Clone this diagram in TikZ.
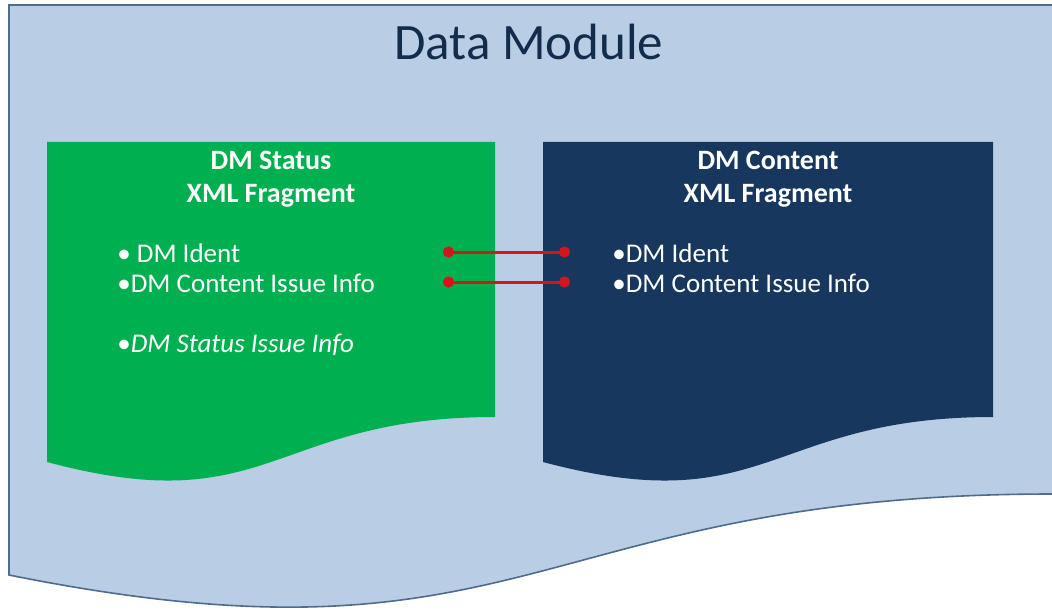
\documentclass[tikz,border=0pt]{standalone}
\usepackage{fontspec}
\setmainfont{Carlito}
\usetikzlibrary{arrows.meta}
\definecolor{pageblue}{HTML}{B9CDE5}
\definecolor{pageline}{HTML}{4F6B8F}
\definecolor{statusgreen}{HTML}{00B050}
\definecolor{contentblue}{HTML}{17375E}
\definecolor{linkred}{HTML}{D0181C}
\tikzset{
  title/.style={text=contentblue!80!black,font=\fontsize{25.5}{30}\selectfont},
  fraghead/.style={text=white,align=center,font=\bfseries\fontsize{14}{16.5}\selectfont},
  item/.style={text=white,anchor=west,inner sep=0pt,font=\fontsize{13.5}{16}\selectfont},
  link/.style={linkred,line width=1.5pt,{Circle[length=5.5pt]}-{Circle[length=5.5pt]}}
}
\begin{document}
\begin{tikzpicture}[x=0.5pt,y=-0.5pt]
	\useasboundingbox (0,0) rectangle (1052,609);
	\clip (0,0) rectangle (1052,609);
	% outer page
	\draw [fill=pageblue,draw=pageline,line width=0.8pt] (9,5) -- (1053,5) -- (1053,494)
		.. controls (531,494) and (531,680) .. (9,575) -- cycle;
	% status fragment
	\fill [statusgreen] (47,142) -- (495,142) -- (495,417)
		.. controls (271,417) and (271,522) .. (47,462) -- cycle;
	% content fragment
	\fill [contentblue] (543,142) -- (993,142) -- (993,417)
		.. controls (768,417) and (768,522) .. (543,462) -- cycle;
	\node[title] (dm) at (529,42) {Data Module};
	\node[fraghead] (status) at (271,179) {DM Status\\XML Fragment};
	\node[fraghead] (content) at (768,179) {DM Content\\XML Fragment};
	\node[item] (sIdent) at (117,253) {• DM Ident};
	\node[item] (sIssue) at (117,283) {•DM Content Issue Info};
	\node[item] (sStatus) at (117,345) {•\textit{DM Status Issue Info}};
	\node[item] (cIdent) at (612,253) {•DM Ident};
	\node[item] (cIssue) at (612,283) {•DM Content Issue Info};
	\coordinate (identL) at (443,252);
	\coordinate (identR) at (570,252);
	\coordinate (issueL) at (443,282);
	\coordinate (issueR) at (570,282);
	\draw [link] (identL) -- (identR);
	\draw [link] (issueL) -- (issueR);
\end{tikzpicture}
\end{document}
